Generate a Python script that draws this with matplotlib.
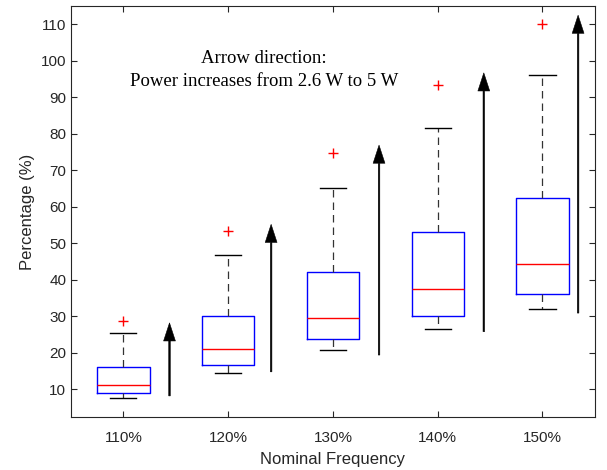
import matplotlib
matplotlib.use("Agg")
import matplotlib.pyplot as plt

# valores
labels = ["110%", "120%", "130%", "140%", "150%"]
whislo = [7.5, 14.5, 20.7, 26.4, 31.9]
q1 = [8.9, 16.7, 23.7, 30.0, 36.0]
med = [11.2, 21.0, 29.5, 37.4, 44.3]
q3 = [16.2, 30.1, 42.2, 53.0, 62.5]
whishi = [25.3, 46.8, 65.2, 81.5, 96.0]
fliers = [28.8, 53.5, 74.8, 93.4, 110.0]

# flechas: posicion x, inicio y fin
arrow_x = [1.44, 2.41, 3.44, 4.44, 5.34]
arrow_lo = [8.2, 14.8, 19.4, 25.8, 30.9]
arrow_hi = [28.2, 55.2, 76.9, 96.7, 112.5]

stats = []
for i in range(len(labels)):
    stats.append(dict(label=labels[i], whislo=whislo[i], q1=q1[i], med=med[i],
                      q3=q3[i], whishi=whishi[i], fliers=[fliers[i]]))

plt.rcParams['font.family'] = ['Liberation Sans', 'DejaVu Sans']
fig = plt.figure(figsize=(6.07, 4.70), dpi=100)
ax = fig.add_axes([0.117, 0.1134, 0.863, 0.8736])

ax.bxp(stats, positions=range(1, 6), widths=0.5,
       boxprops=dict(color='blue', linewidth=1.0),
       medianprops=dict(color='red', linewidth=1.0),
       whiskerprops=dict(color='#333333', linestyle=(0, (6, 4)), linewidth=0.9),
       capprops=dict(color='black', linewidth=1.0),
       flierprops=dict(marker='+', markeredgecolor='red', markersize=7, linestyle='none'))

for x, lo, hi in zip(arrow_x, arrow_lo, arrow_hi):
    ax.annotate("", xy=(x, hi), xytext=(x, lo),
                arrowprops=dict(facecolor='black', edgecolor='black', linewidth=0.4,
                                width=1.1, headwidth=8.5, headlength=13, shrink=0))

ax.text(2.34, 97.5, "Arrow direction:\nPower increases from 2.6 W to 5 W",
        ha='center', va='center', family='Liberation Serif', fontsize=13.5,
        linespacing=1.4)

ax.set_xlim(0.5, 5.5)
ax.set_ylim(2.5, 115)
ax.set_yticks(range(10, 111, 10))
ax.set_xticks(range(1, 6))
ax.set_xticklabels(labels)
ax.tick_params(direction='in', top=True, right=True, length=4, labelsize=11,
               colors='#262626')
ax.tick_params(axis='x', pad=10.5)
for s in ax.spines.values():
    s.set_color('#262626')
ax.set_xlabel("Nominal Frequency", fontsize=12, color='#262626', labelpad=5)
ax.set_ylabel("Percentage (%)", fontsize=12, color='#262626')

fig.savefig("out.png", dpi=100)
plt.close()
